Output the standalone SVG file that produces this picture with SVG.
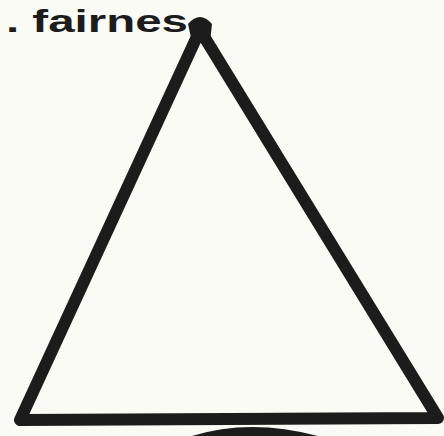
<svg xmlns="http://www.w3.org/2000/svg" width="444" height="436" viewBox="0 0 444 436">
<style>
.ink{stroke:#1c1c1c;stroke-width:12;stroke-linecap:round;stroke-linejoin:round;fill:none}
.hand{font-family:"Liberation Sans","DejaVu Sans",sans-serif;font-weight:bold;fill:#1c1c1c}
</style>
<rect width="444" height="436" fill="#fbfbf6"/>
<g id="label">
<text class="hand" x="6" y="32" font-size="32" textLength="182" lengthAdjust="spacingAndGlyphs">. fairnes</text>
</g>
<g id="triangle">
<polygon class="ink" points="200,30 20,420 438,418"/>
<path d="M188,24 Q200,10 212,24 L210,42 L192,42 Z" fill="#1c1c1c"/>
</g>
<g id="base-shape">
<path d="M192,436 Q250,418 318,436 Z" fill="#1c1c1c"/>
</g>
<g id="connectors"/>
</svg>
